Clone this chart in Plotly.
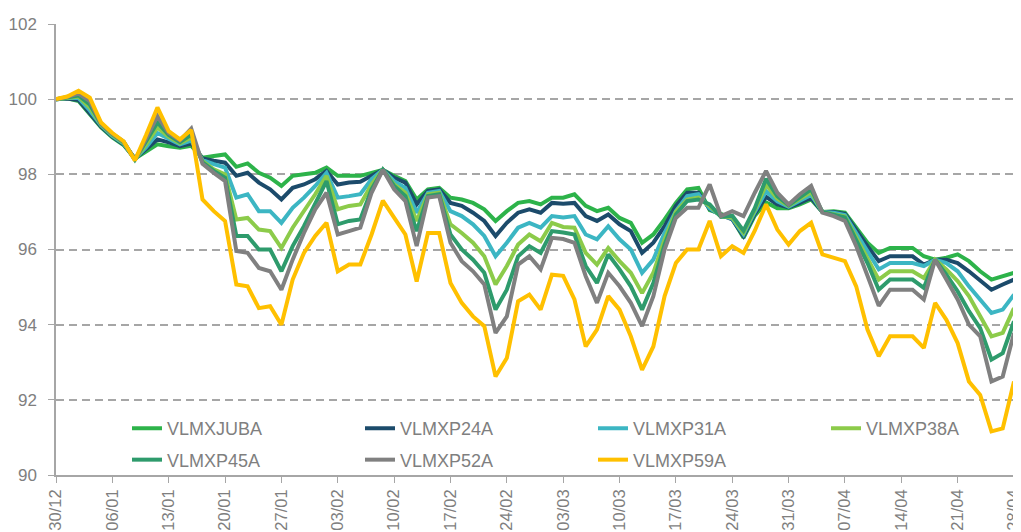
import plotly.graph_objects as go
import pandas as pd

# business days 30/12/2024 .. 28/04/2025 (86 points)
dates = [d.strftime("%Y-%m-%d") for d in pd.bdate_range("2024-12-30", "2025-04-28")]
tick_dates = dates[::5]
tick_labels = [pd.Timestamp(d).strftime("%d/%m") for d in tick_dates]

VLMXJUBA = [100.0, 100.02, 99.95, 99.6, 99.25, 98.98, 98.78, 98.42, 98.62, 98.8,
            98.75, 98.71, 98.76, 98.44, 98.49, 98.53, 98.2, 98.29, 98.04, 97.91,
            97.69, 97.96, 98.0, 98.04, 98.18, 97.96, 97.96, 97.96, 98.04, 98.12,
            97.96, 97.82, 97.33, 97.6, 97.64, 97.38, 97.33, 97.24, 97.07, 96.76,
            97.02, 97.24, 97.29, 97.2, 97.38, 97.38, 97.47, 97.16, 97.02, 97.11,
            96.84, 96.71, 96.18, 96.4, 96.8, 97.24, 97.6, 97.64, 97.05, 96.95,
            96.82, 96.31, 96.9, 97.25, 97.1, 97.1, 97.2, 97.33, 97.0, 97.02,
            96.98, 96.58, 96.18, 95.91, 96.04, 96.04, 96.04, 95.82, 95.73, 95.78,
            95.87, 95.69, 95.42, 95.2, 95.29, 95.38]
VLMXP24A = [100.0, 100.02, 99.98, 99.62, 99.27, 99.0, 98.8, 98.42, 98.66, 98.93,
            98.85, 98.75, 98.82, 98.42, 98.36, 98.31, 97.96, 98.04, 97.78, 97.6,
            97.33, 97.64, 97.73, 97.87, 98.09, 97.73, 97.78, 97.8, 97.96, 98.12,
            97.91, 97.78, 97.2, 97.56, 97.6, 97.24, 97.16, 96.98, 96.76, 96.36,
            96.71, 96.98, 97.07, 96.98, 97.24, 97.22, 97.24, 96.89, 96.76, 96.93,
            96.67, 96.49, 95.91, 96.18, 96.62, 97.16, 97.51, 97.51, 97.08, 96.92,
            96.8, 96.36, 96.95, 97.4, 97.2, 97.12, 97.24, 97.38, 97.0, 97.0,
            96.95, 96.5, 96.09, 95.69, 95.82, 95.82, 95.82, 95.6, 95.73, 95.73,
            95.64, 95.42, 95.16, 94.93, 95.07, 95.2]
VLMXP31A = [100.0, 100.03, 100.03, 99.7, 99.3, 99.02, 98.82, 98.41, 98.72, 99.1,
            98.95, 98.8, 98.9, 98.38, 98.27, 98.18, 97.38, 97.47, 97.02, 97.02,
            96.71, 97.11, 97.38, 97.69, 98.04, 97.38, 97.42, 97.47, 97.87, 98.12,
            97.82, 97.64, 96.98, 97.51, 97.56, 97.02, 96.89, 96.67, 96.36, 95.82,
            96.18, 96.58, 96.71, 96.58, 96.89, 96.85, 96.89, 96.4, 96.27, 96.62,
            96.27, 96.0, 95.38, 95.73, 96.44, 97.02, 97.42, 97.47, 97.1, 96.9,
            96.82, 96.4, 97.0, 97.55, 97.28, 97.14, 97.3, 97.45, 97.0, 96.98,
            96.92, 96.42, 95.96, 95.47, 95.64, 95.64, 95.64, 95.56, 95.73, 95.64,
            95.42, 95.02, 94.67, 94.31, 94.4, 94.8]
VLMXP38A = [100.0, 100.04, 100.07, 99.78, 99.32, 99.05, 98.84, 98.4, 98.8, 99.25,
            99.0, 98.83, 98.98, 98.35, 98.13, 98.0, 96.8, 96.84, 96.53, 96.49,
            96.04, 96.58, 97.02, 97.47, 97.96, 97.07, 97.16, 97.2, 97.73, 98.12,
            97.73, 97.51, 96.76, 97.47, 97.51, 96.67, 96.44, 96.18, 95.82, 95.07,
            95.56, 96.13, 96.4, 96.22, 96.71, 96.6, 96.58, 95.91, 95.6, 96.04,
            95.69, 95.38, 94.84, 95.38, 96.27, 97.0, 97.33, 97.38, 97.15, 96.88,
            96.85, 96.45, 97.05, 97.72, 97.35, 97.16, 97.35, 97.52, 97.0, 96.95,
            96.88, 96.33, 95.78, 95.2, 95.42, 95.42, 95.42, 95.24, 95.73, 95.47,
            95.16, 94.76, 94.22, 93.69, 93.78, 94.44]
VLMXP45A = [100.0, 100.05, 100.1, 99.86, 99.34, 99.07, 98.86, 98.39, 98.88, 99.38,
            99.05, 98.86, 99.06, 98.32, 98.09, 97.91, 96.36, 96.36, 96.0, 96.0,
            95.42, 96.09, 96.62, 97.2, 97.82, 96.67, 96.76, 96.8, 97.6, 98.12,
            97.69, 97.42, 96.49, 97.42, 97.47, 96.4, 96.0, 95.73, 95.38, 94.4,
            94.93, 95.82, 96.09, 95.91, 96.49, 96.45, 96.4, 95.56, 95.11, 95.87,
            95.47, 95.02, 94.4, 95.11, 96.13, 96.93, 97.29, 97.33, 97.2, 96.87,
            96.9, 96.5, 97.1, 97.88, 97.42, 97.18, 97.38, 97.6, 97.0, 96.93,
            96.85, 96.25, 95.64, 94.93, 95.2, 95.2, 95.2, 94.98, 95.73, 95.33,
            94.89, 94.36, 93.91, 93.07, 93.24, 94.09]
VLMXP52A = [100.0, 100.06, 100.15, 99.95, 99.35, 99.08, 98.87, 98.38, 98.95, 99.55,
            99.1, 98.9, 99.22, 98.28, 98.04, 97.82, 95.96, 95.91, 95.51, 95.42,
            94.93, 95.73, 96.44, 97.07, 97.51, 96.4, 96.49, 96.58, 97.51, 98.12,
            97.6, 97.29, 96.09, 97.38, 97.42, 96.18, 95.69, 95.42, 95.07, 93.78,
            94.22, 95.6, 95.82, 95.47, 96.31, 96.28, 96.18, 95.29, 94.58, 95.38,
            95.02, 94.58, 93.96, 94.76, 96.0, 96.84, 97.11, 97.11, 97.73, 96.89,
            97.02, 96.89, 97.51, 98.09, 97.51, 97.2, 97.47, 97.69, 96.98, 96.89,
            96.76, 96.09, 95.3, 94.5, 94.93, 94.93, 94.93, 94.67, 95.73, 95.2,
            94.67, 94.0, 93.69, 92.49, 92.62, 93.78]
VLMXP59A = [100.0, 100.07, 100.22, 100.04, 99.38, 99.1, 98.88, 98.37, 99.05, 99.78,
            99.15, 98.93, 99.18, 97.33, 97.02, 96.76, 95.07, 95.02, 94.44, 94.49,
            94.0, 95.2, 95.91, 96.36, 96.71, 95.42, 95.6, 95.6, 96.4, 97.3,
            96.85, 96.4, 95.15, 96.44, 96.44, 95.11, 94.58, 94.22, 93.96, 92.62,
            93.11, 94.62, 94.8, 94.4, 95.33, 95.3, 94.67, 93.42, 93.87, 94.76,
            94.4, 93.69, 92.8, 93.42, 94.76, 95.64, 96.0, 96.0, 96.76, 95.82,
            96.09, 95.91, 96.5, 97.2, 96.53, 96.13, 96.49, 96.71, 95.87, 95.78,
            95.69, 95.02, 93.87, 93.16, 93.69, 93.69, 93.69, 93.38, 94.58, 94.13,
            93.51, 92.49, 92.13, 91.16, 91.24, 92.49]

# name, values, colour, legend column (legend is laid out 4 + 3)
series = [
    ("VLMXJUBA", VLMXJUBA, "#2DB34A", "legend"),
    ("VLMXP24A", VLMXP24A, "#1C4B6B", "legend2"),
    ("VLMXP31A", VLMXP31A, "#3CB6C3", "legend3"),
    ("VLMXP38A", VLMXP38A, "#8CCB4A", "legend4"),
    ("VLMXP45A", VLMXP45A, "#2E9B6C", "legend"),
    ("VLMXP52A", VLMXP52A, "#808080", "legend2"),
    ("VLMXP59A", VLMXP59A, "#FFC000", "legend3"),
]

fig = go.Figure()
for name, vals, color, leg in series:
    fig.add_trace(go.Scatter(x=dates, y=vals, name=name, mode="lines", legend=leg,
                             legendgroup=name, line=dict(color=color, width=4)))

grey_txt = "#7F7F7F"
# the page body adds an 8px offset, so the figure is a bit smaller than the window
plot_l, plot_w = 48, 958


def legend_at(page_x):
    return dict(x=(page_x - 8 - plot_l) / plot_w, y=0.144, xanchor="left", yanchor="top",
                orientation="v", tracegroupgap=5, bgcolor="rgba(0,0,0,0)",
                font=dict(size=18, color=grey_txt))


fig.update_layout(
    width=1013, height=524,
    margin=dict(l=plot_l, r=7, t=16, b=57),
    plot_bgcolor="white", paper_bgcolor="white",
    font=dict(family="Liberation Sans, Arial, sans-serif", color=grey_txt),
    showlegend=True,
    legend=legend_at(127), legend2=legend_at(360),
    legend3=legend_at(593), legend4=legend_at(826),
)
fig.update_xaxes(type="category", range=[0, len(dates) - 1], automargin=False,
                 tickvals=tick_dates, ticktext=tick_labels, tickangle=-90,
                 tickfont=dict(size=16.5, color=grey_txt),
                 showgrid=False, showline=True, linecolor="#A6A6A6", linewidth=1.5,
                 ticks="outside", ticklen=6, tickcolor="#A6A6A6")
fig.update_yaxes(range=[90, 102], dtick=2, tickfont=dict(size=17, color=grey_txt),
                 automargin=False, ticklabelstandoff=8,
                 showgrid=True, gridcolor="#A6A6A6", griddash="8px,5px", gridwidth=1.5,
                 showline=True, linecolor="#A6A6A6", linewidth=1.5,
                 ticks="outside", ticklen=6, tickcolor="#A6A6A6", zeroline=False)

fig.write_html("out.html")
